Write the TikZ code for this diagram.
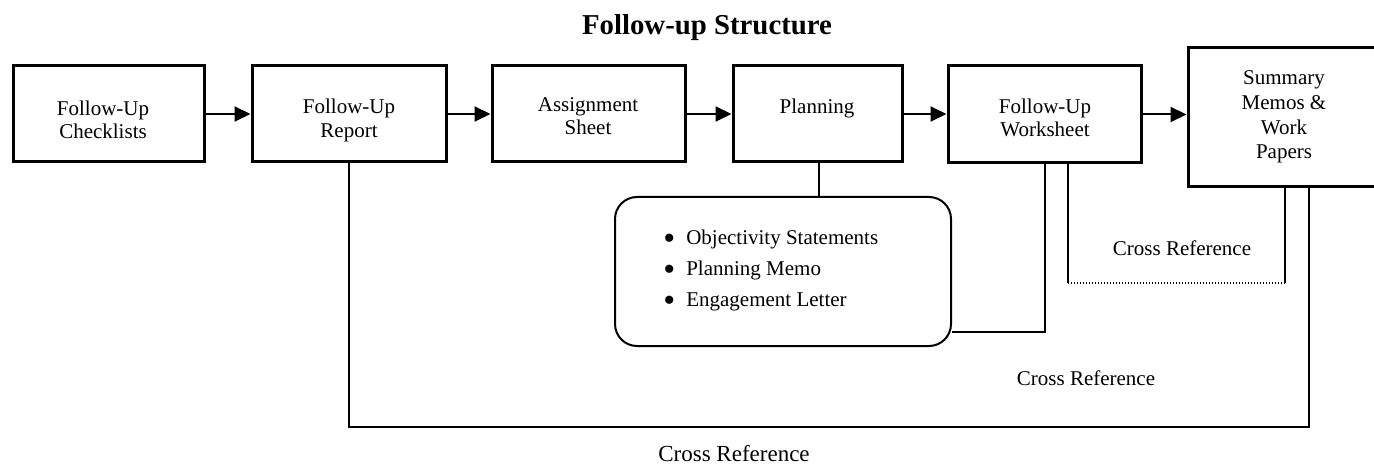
\documentclass[tikz,border=0pt]{standalone}
\usepackage{fontspec}
\setmainfont{Liberation Serif}
\usetikzlibrary{arrows.meta}
\newcommand{\bigbul}{\raisebox{-2.3pt}{\fontsize{17}{17}\selectfont\textbullet}}
\tikzset{
  box/.style={draw, line width=1.5pt, inner sep=0pt, rectangle},
  txt/.style={align=center, inner sep=0pt, font=\fontsize{10.5}{11.6}\selectfont},
  conn/.style={line width=1pt},
  arr/.style={line width=1pt, -{Triangle[length=8pt,width=7.5pt]}},
  rbox/.style={draw, line width=1pt, rounded corners=11pt, inner sep=0pt},
  lbl/.style={inner sep=0pt, font=\fontsize{10.5}{12}\selectfont},
}
\begin{document}
\begin{tikzpicture}[x=0.5pt, y=-0.5pt]
\useasboundingbox (0,0) rectangle (1374,464);
\clip (0,0) rectangle (1374,464);
% title
\node[inner sep=0pt, font=\bfseries\fontsize{14.4}{16}\selectfont] (title) at (707,28) {Follow-up Structure};
% boxes
\node[box, minimum width=95.5pt, minimum height=48pt] (b1) at (108.5,114) {};
\node[box, minimum width=97pt, minimum height=48pt] (b2) at (349,114) {};
\node[box, minimum width=96.5pt, minimum height=48pt] (b3) at (588.5,114) {};
\node[box, minimum width=84.5pt, minimum height=48pt] (b4) at (817.5,114) {};
\node[box, minimum width=96.5pt, minimum height=48.5pt] (b5) at (1044.5,114.5) {};
\node[box, minimum width=96pt, minimum height=69.5pt] (b6) at (1284,117.5) {};
% box texts
\node[txt] (t1) at (103,119.5) {Follow-Up\\Checklists};
\node[txt] (t2) at (349,120.5) {Follow-Up\\Report};
\node[txt] (t3) at (588,116.5) {Assignment\\Sheet};
\node[txt] (t4) at (817,108.5) {Planning};
\node[txt] (t5) at (1045,117.5) {Follow-Up\\Worksheet};
\node[txt, font=\fontsize{10.5}{12.3}\selectfont] (t6) at (1284,117) {Summary\\Memos \&\\Work\\Papers};
% rounded box
\node[rbox, minimum width=168pt, minimum height=74.5pt] (rb) at (783,271.5) {};
\node[txt, align=left, anchor=west, font=\fontsize{10.5}{15.5}\selectfont] (list) at (663,271) {\bigbul\hspace{5.5pt}Objectivity Statements\\\bigbul\hspace{5.5pt}Planning Memo\\\bigbul\hspace{5.5pt}Engagement Letter};
% arrows
\draw[arr] (b1) -- (b2);
\draw[arr] (b2) -- (b3);
\draw[arr] (b3) -- (b4);
\draw[arr] (b4.east) -- (b4.east -| b5.west);
\draw[arr] (b5.east) -- (b5.east -| b6.west);
% planning to list
\coordinate (cp) at (819,0);
\draw[conn] (cp |- b4.south) -- (cp |- rb.north);
% outer cross reference
\coordinate (cb) at (1309,427);
\draw[conn] (b2.south) |- (cb) -- (cb |- b6.south);
% list to worksheet
\coordinate (c2) at (1045,332);
\draw[conn] (rb.east |- c2) -- (c2) -- (c2 |- b5.south);
% dotted cross reference
\coordinate (c3) at (1068,283);
\coordinate (c4) at (1285,283);
\draw[conn] (c3 |- b5.south) -- (c3);
\draw[line width=1pt, dash pattern=on 0.6pt off 0.9pt] (c3) -- (c4);
\draw[conn] (c4) -- (c4 |- b6.south);
% labels
\node[lbl] (l1) at (1182,248) {Cross Reference};
\node[lbl] (l2) at (1086,378) {Cross Reference};
\node[lbl, font=\fontsize{11.5}{13}\selectfont] (l3) at (734,454) {Cross Reference};
\end{tikzpicture}
\end{document}
